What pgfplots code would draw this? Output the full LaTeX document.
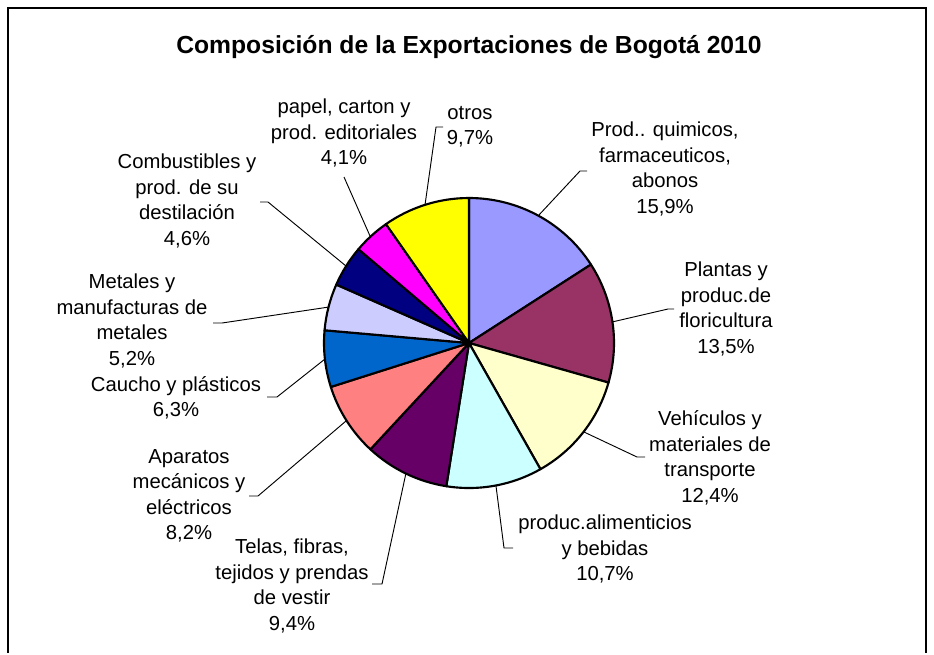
\documentclass[border=0pt]{standalone}
\usepackage{pgfplots}
\pgfplotsset{compat=1.18}
\usepackage{fontspec}
\setmainfont{Liberation Sans}

\definecolor{cA}{HTML}{9999FF}
\definecolor{cB}{HTML}{993366}
\definecolor{cC}{HTML}{FFFFCC}
\definecolor{cD}{HTML}{CCFFFF}
\definecolor{cE}{HTML}{660066}
\definecolor{cF}{HTML}{FF8080}
\definecolor{cG}{HTML}{0066CC}
\definecolor{cH}{HTML}{CCCCFF}
\definecolor{cI}{HTML}{000080}
\definecolor{cJ}{HTML}{FF00FF}
\definecolor{cK}{HTML}{FFFF00}

\newcommand{\lbl}{\fontsize{15.2}{19.1}\selectfont}

\begin{document}
\begin{tikzpicture}
\begin{axis}[
hide axis, clip=false,
x=0.75pt, y=0.75pt, y dir=reverse,
xmin=0, xmax=934, ymin=0, ymax=653,
]
% page frame (pixel coordinates, y downwards)
\path (axis cs:0,0) rectangle (axis cs:934,653);
\draw[line width=1.5pt] (axis cs:8,653) -- (axis cs:8,8) -- (axis cs:926,8) -- (axis cs:926,653);

% pie: shares in %, clockwise from 12 o'clock
\pgfplotsextra{
  \xdef\angA{90}
  \foreach \v/\c in {15.9/cA, 13.5/cB, 12.4/cC, 10.7/cD, 9.4/cE, 8.2/cF,
                     6.3/cG, 5.2/cH, 4.6/cI, 4.1/cJ, 9.7/cK}{
    \pgfmathsetmacro\angB{\angA-3.6*\v}
    \filldraw[fill=\c, draw=black, line width=1.6pt, line join=round]
      (axis cs:469,343) -- ++(\angA:108.75pt)
      arc[start angle=\angA, end angle=\angB, radius=108.75pt] -- cycle;
    \xdef\angA{\angB}
  }
}

% leader lines
\draw[line width=0.7pt] (axis cs:538,216) -- (axis cs:580,171) -- (axis cs:587,171);
\draw[line width=0.7pt] (axis cs:612,322) -- (axis cs:668,309) -- (axis cs:674,309);
\draw[line width=0.7pt] (axis cs:584,432) -- (axis cs:637,457) -- (axis cs:645,457);
\draw[line width=0.7pt] (axis cs:496,486) -- (axis cs:504,548) -- (axis cs:513,548);
\draw[line width=0.7pt] (axis cs:406,473) -- (axis cs:382,584) -- (axis cs:372,584);
\draw[line width=0.7pt] (axis cs:346,421) -- (axis cs:258,496) -- (axis cs:249,496);
\draw[line width=0.7pt] (axis cs:325,359) -- (axis cs:277,397) -- (axis cs:267,397);
\draw[line width=0.7pt] (axis cs:329,307) -- (axis cs:222,323) -- (axis cs:213,323);
\draw[line width=0.7pt] (axis cs:346,266) -- (axis cs:268,202) -- (axis cs:260,202);
\draw[line width=0.7pt] (axis cs:370,236) -- (axis cs:344,177);
\draw[line width=0.7pt] (axis cs:425,205) -- (axis cs:436,127) -- (axis cs:443,127);

% title and labels
\node[font=\bfseries\fontsize{18.5}{22}\selectfont] at (axis cs:469,47)
  {Composición de la Exportaciones de Bogotá 2010};
\node[align=center, inner sep=0pt, font=\lbl] at (axis cs:665,169)
  {Prod.. quimicos,\\farmaceuticos,\\abonos\\15,9\%};
\node[align=center, inner sep=0pt, font=\lbl] at (axis cs:726,309)
  {Plantas y\\produc.de\\floricultura\\13,5\%};
\node[align=center, inner sep=0pt, font=\lbl] at (axis cs:710,458)
  {Vehículos y\\materiales de\\transporte\\12,4\%};
\node[align=center, inner sep=0pt, font=\lbl] at (axis cs:605,549)
  {produc.alimenticios\\y bebidas\\10,7\%};
\node[align=center, inner sep=0pt, font=\lbl] at (axis cs:292,586)
  {Telas, fibras,\\tejidos y prendas\\de vestir\\9,4\%};
\node[align=center, inner sep=0pt, font=\lbl] at (axis cs:189,496)
  {Aparatos\\mecánicos y\\eléctricos\\8,2\%};
\node[align=center, inner sep=0pt, font=\lbl] at (axis cs:176,398)
  {Caucho y plásticos\\6,3\%};
\node[align=center, inner sep=0pt, font=\lbl] at (axis cs:132,321)
  {Metales y\\manufacturas de\\metales\\5,2\%};
\node[align=center, inner sep=0pt, font=\lbl] at (axis cs:187,201)
  {Combustibles y\\prod. de su\\destilación\\4,6\%};
\node[align=center, inner sep=0pt, font=\lbl] at (axis cs:344,133)
  {papel, carton y\\prod. editoriales\\4,1\%};
\node[align=center, inner sep=0pt, font=\lbl] at (axis cs:470,127)
  {otros\\9,7\%};
\end{axis}
\end{tikzpicture}
\end{document}
